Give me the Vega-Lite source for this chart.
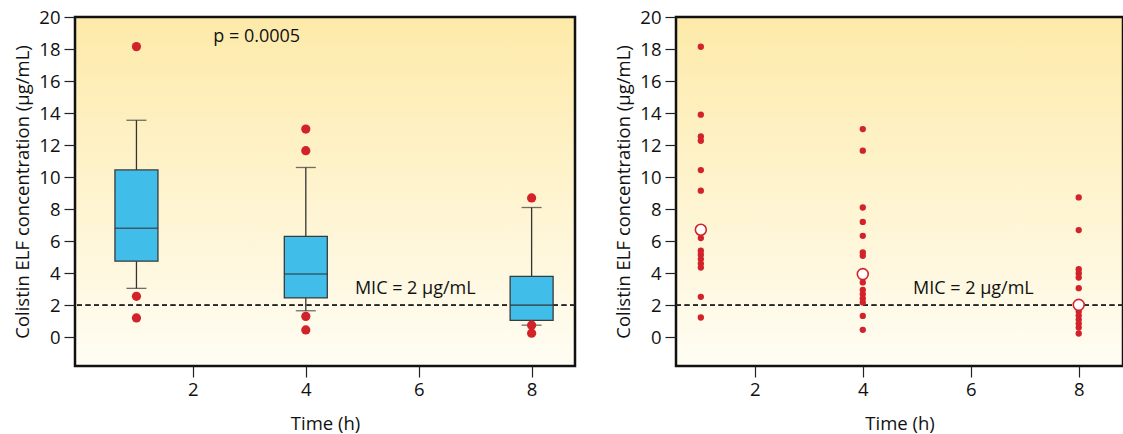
{
  "$schema": "https://vega.github.io/schema/vega-lite/v6.json",
  "background": "white",
  "padding": {"left": 12, "top": 6, "right": 0, "bottom": 0},
  "spacing": 36,
  "config": {
    "font": "Open Sans",
    "view": {
      "stroke": "#111111",
      "strokeWidth": 2.5,
      "fill": {"gradient": "linear", "x1": 0, "y1": 0, "x2": 0, "y2": 1, "stops": [{"offset": 0, "color": "#fdeaa9"}, {"offset": 1, "color": "#fffdf4"}]}
    },
    "axis": {
      "grid": false,
      "domain": false,
      "ticks": true,
      "tickColor": "#222222",
      "tickSize": 11,
      "tickWidth": 1.2,
      "labelFont": "Open Sans",
      "labelFontSize": 18.5,
      "labelColor": "#111111",
      "titleFont": "Open Sans",
      "titleFontSize": 18.5,
      "titleFontWeight": "normal",
      "titleColor": "#111111"
    },
    "axisX": {"labelPadding": 3, "titlePadding": 16},
    "axisY": {"labelPadding": 4, "titlePadding": 6}
  },
  "datasets": {
    "boxes": [
      {"time": 1, "wlo": 3.05, "q1": 4.75, "median": 6.8, "q3": 10.45, "whi": 13.55},
      {"time": 4, "wlo": 1.65, "q1": 2.45, "median": 3.95, "q3": 6.3, "whi": 10.6},
      {"time": 8, "wlo": 0.75, "q1": 1.05, "median": 2.0, "q3": 3.8, "whi": 8.1}
    ],
    "outliers": [
      {"time": 1, "value": 18.15},
      {"time": 1, "value": 2.55},
      {"time": 1, "value": 1.2},
      {"time": 4, "value": 13.0},
      {"time": 4, "value": 11.65},
      {"time": 4, "value": 1.3},
      {"time": 4, "value": 0.45},
      {"time": 8, "value": 8.7},
      {"time": 8, "value": 0.75},
      {"time": 8, "value": 0.25}
    ],
    "points": [
      {"time": 1, "value": 18.14},
      {"time": 1, "value": 13.9},
      {"time": 1, "value": 12.54},
      {"time": 1, "value": 12.27},
      {"time": 1, "value": 10.44},
      {"time": 1, "value": 9.15},
      {"time": 1, "value": 6.19},
      {"time": 1, "value": 5.4},
      {"time": 1, "value": 5.15},
      {"time": 1, "value": 4.88},
      {"time": 1, "value": 4.6},
      {"time": 1, "value": 4.35},
      {"time": 1, "value": 2.52},
      {"time": 1, "value": 1.23},
      {"time": 4, "value": 13.0},
      {"time": 4, "value": 11.65},
      {"time": 4, "value": 8.1},
      {"time": 4, "value": 7.2},
      {"time": 4, "value": 6.33},
      {"time": 4, "value": 5.29},
      {"time": 4, "value": 5.08},
      {"time": 4, "value": 3.42},
      {"time": 4, "value": 2.96},
      {"time": 4, "value": 2.69},
      {"time": 4, "value": 2.42},
      {"time": 4, "value": 2.17},
      {"time": 4, "value": 1.33},
      {"time": 4, "value": 0.46},
      {"time": 8, "value": 8.73},
      {"time": 8, "value": 6.69},
      {"time": 8, "value": 4.25},
      {"time": 8, "value": 4.0},
      {"time": 8, "value": 3.73},
      {"time": 8, "value": 3.06},
      {"time": 8, "value": 1.6},
      {"time": 8, "value": 1.35},
      {"time": 8, "value": 1.1},
      {"time": 8, "value": 0.85},
      {"time": 8, "value": 0.6},
      {"time": 8, "value": 0.23}
    ],
    "medians": [
      {"time": 1, "value": 6.71},
      {"time": 4, "value": 3.94},
      {"time": 8, "value": 2.02}
    ],
    "leftText": [
      {"x": 2.36, "y": 18.75, "label": "p = 0.0005"},
      {"x": 4.87, "y": 3.0, "label": "MIC = 2 µg/mL"}
    ],
    "rightText": [
      {"x": 4.93, "y": 3.0, "label": "MIC = 2 µg/mL"}
    ]
  },
  "hconcat": [
    {
      "width": 500,
      "height": 349,
      "encoding": {
        "x": {"field": "time", "type": "quantitative", "scale": {"domain": [0, 8.68], "nice": false, "zero": false}, "axis": {"values": [2, 4, 6, 8], "title": "Time (h)"}},
        "y": {"type": "quantitative", "scale": {"domain": [-1.8, 20], "nice": false, "zero": false}, "axis": {"values": [0, 2, 4, 6, 8, 10, 12, 14, 16, 18, 20], "title": "Colistin ELF concentration (µg/mL)"}}
      },
      "layer": [
        {
          "data": {"name": "boxes"},
          "mark": {"type": "rule", "color": "#222222", "strokeWidth": 1.4, "strokeDash": [5, 3.5]},
          "encoding": {"x": null, "y": {"datum": 2, "type": "quantitative"}}
        },
        {
          "data": {"name": "boxes"},
          "mark": {"type": "rule", "color": "#333333", "strokeWidth": 1.3},
          "encoding": {"y": {"field": "wlo", "type": "quantitative"}, "y2": {"field": "whi"}}
        },
        {
          "data": {"name": "boxes"},
          "mark": {"type": "tick", "orient": "horizontal", "size": 20, "thickness": 1.3, "color": "#333333"},
          "encoding": {"y": {"field": "wlo", "type": "quantitative"}}
        },
        {
          "data": {"name": "boxes"},
          "mark": {"type": "tick", "orient": "horizontal", "size": 20, "thickness": 1.3, "color": "#333333"},
          "encoding": {"y": {"field": "whi", "type": "quantitative"}}
        },
        {
          "data": {"name": "boxes"},
          "mark": {"type": "bar", "width": 43, "fill": "#41bdea", "stroke": "#3a3a3a", "strokeWidth": 1.3, "orient": "vertical"},
          "encoding": {"y": {"field": "q1", "type": "quantitative"}, "y2": {"field": "q3"}}
        },
        {
          "data": {"name": "boxes"},
          "mark": {"type": "tick", "orient": "horizontal", "size": 43, "thickness": 1.6, "color": "#333333"},
          "encoding": {"y": {"field": "median", "type": "quantitative"}}
        },
        {
          "data": {"name": "outliers"},
          "mark": {"type": "circle", "size": 85, "color": "#d2232a", "opacity": 1},
          "encoding": {"y": {"field": "value", "type": "quantitative"}}
        },
        {
          "data": {"name": "leftText"},
          "mark": {"type": "text", "align": "left", "baseline": "middle", "fontSize": 18, "font": "Open Sans", "color": "#111111"},
          "encoding": {"x": {"field": "x", "type": "quantitative"}, "y": {"field": "y", "type": "quantitative"}, "text": {"field": "label"}}
        }
      ]
    },
    {
      "width": 447,
      "height": 349,
      "encoding": {
        "x": {"field": "time", "type": "quantitative", "scale": {"domain": [0.54, 8.82], "nice": false, "zero": false}, "axis": {"values": [2, 4, 6, 8], "title": "Time (h)"}},
        "y": {"type": "quantitative", "scale": {"domain": [-1.8, 20], "nice": false, "zero": false}, "axis": {"values": [0, 2, 4, 6, 8, 10, 12, 14, 16, 18, 20], "title": "Colistin ELF concentration (µg/mL)"}}
      },
      "layer": [
        {
          "data": {"name": "medians"},
          "mark": {"type": "rule", "color": "#222222", "strokeWidth": 1.4, "strokeDash": [5, 3.5]},
          "encoding": {"x": null, "y": {"datum": 2, "type": "quantitative"}}
        },
        {
          "data": {"name": "points"},
          "mark": {"type": "circle", "size": 40, "color": "#d2232a", "opacity": 1},
          "encoding": {"y": {"field": "value", "type": "quantitative"}}
        },
        {
          "data": {"name": "medians"},
          "mark": {"type": "point", "shape": "circle", "size": 120, "fill": "white", "filled": true, "stroke": "#d2232a", "strokeWidth": 1.6, "opacity": 1},
          "encoding": {"y": {"field": "value", "type": "quantitative"}}
        },
        {
          "data": {"name": "rightText"},
          "mark": {"type": "text", "align": "left", "baseline": "middle", "fontSize": 18, "font": "Open Sans", "color": "#111111"},
          "encoding": {"x": {"field": "x", "type": "quantitative"}, "y": {"field": "y", "type": "quantitative"}, "text": {"field": "label"}}
        }
      ]
    }
  ]
}
